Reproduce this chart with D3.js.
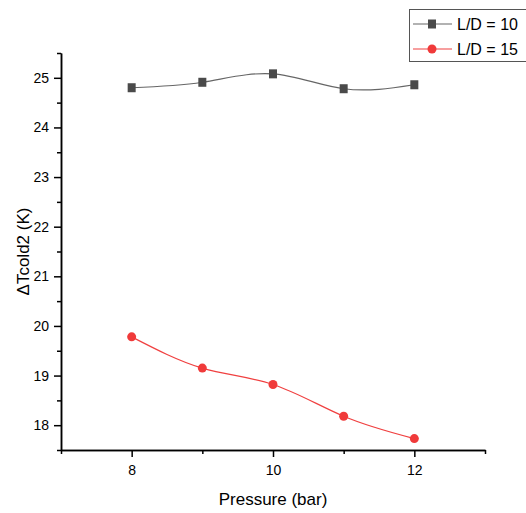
<!DOCTYPE html>
<html>
<head>
<meta charset="utf-8">
<script src="https://cdn.jsdelivr.net/npm/d3@7"></script>
<style>
	body { margin: 0; background: #fff; }
	svg { display: block; font-family: Arial, "Liberation Sans", sans-serif; }
	.axis path, .axis line { stroke: #000; stroke-width: 1.5; }
	.axis text { font-size: 14px; fill: #000; }
</style>
</head>
<body>
<svg></svg>
<script>
// data
const pressures = [8, 9, 10, 11, 12]
const seriesNames = ['L/D = 10', 'L/D = 15']
const ld10 = [24.80, 24.91, 25.08, 24.78, 24.86]
const ld15 = [19.78, 19.15, 18.82, 18.18, 17.73]
const xTicks = [8, 10, 12]
const yTicks = [18, 19, 20, 21, 22, 23, 24, 25]

const W = 526, H = 513
const plot = {left: 61, right: 485, top: 53, bottom: 450}

const svg = d3.select('svg')
	.attr('width', W)
	.attr('height', H)

const x = d3.scaleLinear().domain([7, 13]).range([plot.left, plot.right])
const y = d3.scaleLinear().domain([17.5, 25.5]).range([plot.bottom, plot.top])

// minor ticks first, then major ones with labels
svg.append('g')
	.attr('class', 'axis')
	.attr('transform', `translate(0,${plot.bottom})`)
	.call(d3.axisBottom(x).tickValues([7, 9, 11, 13]).tickSize(4).tickSizeOuter(0).tickFormat(''))
svg.append('g')
	.attr('class', 'axis')
	.attr('transform', `translate(0,${plot.bottom})`)
	.call(d3.axisBottom(x).tickValues(xTicks).tickSize(7).tickSizeOuter(0).tickPadding(8).tickFormat(d3.format('d')))

svg.append('g')
	.attr('class', 'axis')
	.attr('transform', `translate(${plot.left},0)`)
	.call(d3.axisLeft(y).tickValues(d3.range(17.5, 25.6, 1)).tickSize(4).tickSizeOuter(0).tickFormat(''))
svg.append('g')
	.attr('class', 'axis')
	.attr('transform', `translate(${plot.left},0)`)
	.call(d3.axisLeft(y).tickValues(yTicks).tickSize(7).tickSizeOuter(0).tickPadding(5).tickFormat(d3.format('d')))

svg.append('text')
	.attr('x', (plot.left + plot.right) / 2)
	.attr('y', 505)
	.attr('text-anchor', 'middle')
	.style('font-size', '17px')
	.text('Pressure (bar)')

svg.append('text')
	.attr('transform', `translate(29,${(plot.top + plot.bottom) / 2}) rotate(-90)`)
	.attr('text-anchor', 'middle')
	.style('font-size', '17px')
	.text('ΔTcold2 (K)')

const series = [
	{name: seriesNames[0], values: ld10, line: '#666', fill: '#4a4a4a', shape: 'square'},
	{name: seriesNames[1], values: ld15, line: '#f04040', fill: '#f03a3a', shape: 'circle'}
]

const line = d3.line()
	.curve(d3.curveNatural)
	.x((d, i) => x(pressures[i]))
	.y(d => y(d))

function drawMarker(g, s, cx, cy) {
	if (s.shape === 'square') {
		g.append('rect')
			.attr('x', cx - 4).attr('y', cy - 4.5)
			.attr('width', 8).attr('height', 9)
			.attr('fill', s.fill)
	} else {
		g.append('circle')
			.attr('cx', cx).attr('cy', cy)
			.attr('r', 4.5)
			.attr('fill', s.fill)
	}
}

series.forEach(s => {
	svg.append('path')
		.datum(s.values)
		.attr('d', line)
		.attr('fill', 'none')
		.attr('stroke', s.line)
		.attr('stroke-width', 1.2)
	const g = svg.append('g')
	s.values.forEach((v, i) => drawMarker(g, s, x(pressures[i]), y(v)))
})

// legend, cut off at the right edge like the original
const lg = svg.append('g')
lg.append('rect')
	.attr('x', 409.5).attr('y', 9.5)
	.attr('width', 130).attr('height', 52)
	.attr('fill', '#fff')
	.attr('stroke', '#555')
	.attr('stroke-width', 1)
series.forEach((s, i) => {
	const ly = 24 + i * 25
	lg.append('line')
		.attr('x1', 413).attr('x2', 452)
		.attr('y1', ly).attr('y2', ly)
		.attr('stroke', s.line)
		.attr('stroke-width', 1.2)
	drawMarker(lg, s, 432, ly)
	lg.append('text')
		.attr('x', 457).attr('y', ly + 6)
		.style('font-size', '16px')
		.text(s.name)
})
</script>
</body>
</html>
